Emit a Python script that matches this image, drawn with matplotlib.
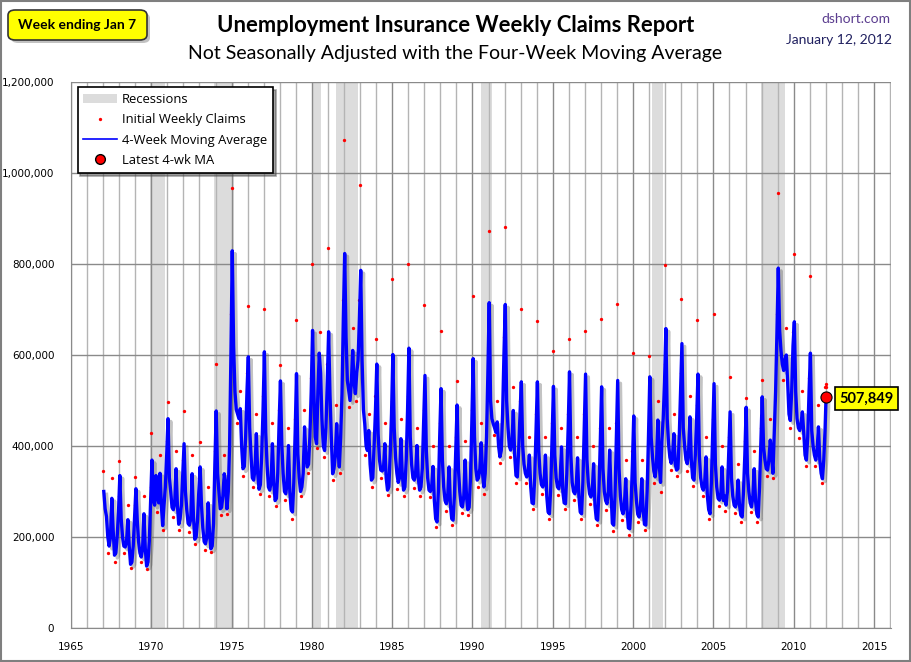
import numpy as np
import matplotlib.pyplot as plt
import matplotlib.patheffects as pe
from matplotlib.patches import FancyBboxPatch, Rectangle, Patch
from matplotlib.lines import Line2D
from matplotlib.ticker import FuncFormatter, MultipleLocator

# ---- data (thousands of claims) ----
years = list(range(1967, 2012))

# 4-week moving average, one row per year, Jan..Dec (mid-month)
ma_1967_1976 = [
    [300, 262, 245, 200, 180, 200, 285, 215, 160, 165, 200, 255],
    [335, 240, 200, 180, 178, 190, 238, 180, 140, 145, 180, 245],
    [306, 237, 190, 165, 156, 175, 251, 175, 136, 145, 190, 280],
    [369, 280, 270, 335, 290, 275, 340, 270, 225, 270, 310, 380],
    [460, 330, 300, 265, 260, 275, 350, 270, 228, 240, 270, 340],
    [405, 300, 260, 230, 226, 240, 339, 245, 195, 200, 235, 300],
    [354, 270, 220, 190, 185, 200, 275, 210, 174, 180, 230, 360],
    [477, 340, 300, 262, 265, 290, 339, 320, 262, 300, 400, 600],
    [829, 620, 520, 480, 470, 460, 482, 400, 350, 355, 420, 520],
    [596, 440, 380, 330, 325, 350, 427, 340, 305, 315, 380, 480],
]
ma_1977_1986 = [
    [607, 430, 360, 310, 303, 320, 405, 320, 280, 285, 340, 450],
    [543, 405, 340, 300, 295, 320, 401, 300, 260, 255, 320, 430],
    [559, 383, 330, 300, 310, 340, 442, 380, 354, 360, 420, 520],
    [654, 515, 420, 405, 520, 604, 560, 460, 400, 390, 440, 540],
    [651, 515, 420, 339, 350, 380, 449, 390, 354, 420, 515, 680],
    [823, 640, 544, 522, 500, 540, 610, 540, 515, 560, 588, 680],
    [786, 588, 480, 449, 400, 390, 434, 360, 325, 330, 400, 478],
    [580, 427, 370, 347, 345, 350, 405, 330, 303, 310, 380, 470],
    [601, 440, 376, 340, 320, 330, 416, 340, 303, 310, 370, 480],
    [615, 420, 360, 330, 325, 340, 401, 330, 303, 310, 350, 450],
]
ma_1987_1996 = [
    [555, 390, 330, 303, 300, 310, 355, 280, 240, 233, 300, 420],
    [526, 370, 310, 280, 273, 290, 354, 270, 240, 237, 290, 390],
    [490, 350, 300, 270, 266, 290, 369, 290, 260, 265, 330, 450],
    [592, 420, 350, 325, 330, 350, 407, 340, 310, 340, 420, 560],
    [715, 500, 460, 449, 440, 430, 453, 400, 376, 390, 470, 600],
    [711, 500, 442, 400, 391, 410, 478, 380, 335, 332, 390, 470],
    [541, 400, 360, 340, 332, 340, 380, 310, 275, 273, 330, 440],
    [541, 390, 340, 315, 310, 320, 380, 290, 255, 251, 310, 420],
    [531, 380, 330, 310, 306, 325, 398, 300, 275, 273, 340, 440],
    [563, 380, 320, 300, 295, 310, 374, 290, 255, 251, 320, 440],
]
ma_1997_2006 = [
    [558, 370, 320, 295, 288, 300, 361, 270, 240, 237, 300, 410],
    [530, 350, 300, 280, 273, 300, 391, 300, 230, 226, 290, 420],
    [544, 350, 290, 260, 251, 270, 328, 260, 220, 218, 270, 360],
    [466, 320, 280, 250, 244, 265, 328, 260, 228, 226, 300, 420],
    [552, 420, 376, 345, 332, 360, 457, 360, 320, 410, 460, 540],
    [658, 460, 405, 375, 362, 380, 427, 360, 347, 350, 420, 520],
    [625, 440, 400, 370, 361, 390, 464, 370, 330, 325, 380, 460],
    [558, 380, 330, 310, 303, 320, 376, 290, 260, 251, 320, 430],
    [537, 360, 310, 285, 281, 290, 354, 280, 290, 270, 300, 390],
    [475, 330, 290, 270, 266, 280, 325, 270, 248, 244, 300, 380],
]
ma_2007_2011 = [
    [485, 340, 300, 275, 266, 290, 350, 280, 250, 244, 310, 410],
    [508, 398, 370, 350, 347, 370, 413, 380, 340, 430, 520, 650],
    [791, 654, 610, 580, 566, 590, 600, 540, 470, 456, 520, 620],
    [673, 520, 460, 440, 434, 450, 475, 430, 380, 369, 420, 520],
    [604, 434, 400, 380, 369, 390, 442, 370, 340, 328, 370, 440],
]

# initial weekly claims that stand out from the average (thousands)
jan_claims = [345, 368, 332, 428, 497, 477, 409, 581, 968, 707,
              702, 577, 678, 801, 836, 1072, 974, 636, 768, 801,
              709, 652, 542, 729, 872, 882, 702, 674, 609, 636,
              652, 680, 711, 605, 597, 797, 722, 676, 691, 552,
              505, 546, 955, 823, 773]
jul_claims = [330, 270, 290, 380, 390, 380, 310, 380, 520, 470,
              450, 440, 480, 650, 490, 660, 470, 450, 460, 440,
              400, 400, 410, 450, 500, 530, 420, 420, 440, 420,
              400, 440, 370, 370, 500, 470, 510, 420, 400, 360,
              390, 460, 660, 520, 490]
spring_claims = [165, 165, 145, 255, 245, 212, 172, 248, 450, 310,
                 290, 282, 290, 395, 325, 485, 380, 330, 305, 308,
                 288, 258, 252, 310, 425, 375, 318, 295, 292, 282,
                 272, 260, 238, 232, 318, 348, 345, 290, 268, 252,
                 255, 335, 545, 418, 355]
fall_claims = [145, 132, 130, 215, 215, 185, 168, 250, 335, 295,
               268, 240, 340, 375, 340, 500, 310, 292, 290, 290,
               222, 226, 248, 295, 362, 318, 262, 240, 262, 240,
               226, 214, 205, 215, 300, 335, 312, 240, 258, 232,
               232, 330, 440, 355, 318]
dec_claims = [290, 270, 310, 410, 370, 330, 390, 690, 560, 510,
              480, 460, 550, 580, 720, 720, 510, 500, 510, 480,
              450, 420, 480, 600, 640, 500, 470, 450, 470, 470,
              440, 450, 390, 450, 580, 560, 490, 460, 420, 410,
              440, 690, 650, 550, 530]

latest_date = 2012.015
latest_ma = 507849
latest_claims = [537, 530]

recessions = [(1969.92, 1970.88), (1973.88, 1975.18), (1980.0, 1980.54),
              (1981.5, 1982.88), (1990.54, 1991.2), (2001.17, 2001.88),
              (2007.96, 2009.46)]

# ---- build series ----
ma_rows = ma_1967_1976 + ma_1977_1986 + ma_1987_1996 + ma_1997_2006 + ma_2007_2011
dates = []
ma = []
for y, row in zip(years, ma_rows):
    for m, v in enumerate(row):
        dates.append(y + (m + 0.5) / 12)
        ma.append(v * 1000)
dates.append(latest_date)
ma.append(latest_ma)

dot_x, dot_y = [], []
for y, a, b, c, d, e in zip(years, jan_claims, spring_claims, jul_claims, fall_claims, dec_claims):
    for off, v in [(0.01, a), (0.33, b), (0.53, c), (0.74, d), (0.96, e)]:
        dot_x.append(y + off)
        dot_y.append(v * 1000)
for v in latest_claims:
    dot_x.append(latest_date - 0.01)
    dot_y.append(v * 1000)

# ---- figure ----
fig = plt.figure(figsize=(9.11, 6.62), dpi=100)
ax = fig.add_axes([71 / 911, 1 - 628 / 662, 820 / 911, 546 / 662])

for a, b in recessions:
    ax.axvspan(a, b, color='#dcdcdc', lw=0, zorder=0)

ax.set_xlim(1965, 2016.06)
ax.set_ylim(0, 1200000)
ax.xaxis.set_major_locator(MultipleLocator(5))
ax.xaxis.set_minor_locator(MultipleLocator(1))
ax.yaxis.set_major_locator(MultipleLocator(200000))
ax.yaxis.set_major_formatter(FuncFormatter(lambda v, p: f'{int(v):,}'))
ax.grid(which='major', color='#8a8a8a', lw=1, zorder=1)
ax.grid(which='minor', axis='x', color='#b4b4b4', lw=1, zorder=1)
ax.set_axisbelow(True)
ax.tick_params(which='both', length=0, labelsize=7.5, colors='black')
ax.tick_params(axis='x', pad=10)
ax.tick_params(axis='y', pad=12)
for s in ['top', 'right']:
    ax.spines[s].set_visible(False)
for s in ['left', 'bottom']:
    ax.spines[s].set_color('#8a8a8a')

ax.plot(dot_x, dot_y, 'o', color='#ff0000', ms=2.4, mew=0, zorder=2)
ax.plot(dates, ma, color='#0000ff', lw=2.4, zorder=3,
        path_effects=[pe.SimpleLineShadow(offset=(2, -2), shadow_color='#555555', alpha=0.35),
                      pe.Normal()])
ax.plot([latest_date], [latest_ma], 'o', color='#ff0000', mec='black', mew=0.8, ms=8, zorder=5)

handles = [Patch(facecolor='#dcdcdc', edgecolor='none'),
           Line2D([], [], ls='none', marker='o', color='#ff0000', ms=2.4, mew=0),
           Line2D([], [], color='#0000ff', lw=1.2),
           Line2D([], [], ls='none', marker='o', color='#ff0000', mec='black', ms=7)]
labels = ['Recessions', 'Initial Weekly Claims', '4-Week Moving Average', 'Latest 4-wk MA']
leg = ax.legend(handles, labels, loc='upper left', bbox_to_anchor=(0.0, 1.002),
                frameon=True, fancybox=False, shadow=True, edgecolor='black',
                framealpha=1, handlelength=2.6, borderpad=0.45,
                labelspacing=0.55, handletextpad=0.35, prop={'family': 'Open Sans', 'size': 9.4})
leg.get_frame().set_linewidth(1.2)
leg.set_zorder(10)

# annotation box for the latest value
ax.annotate(f'{latest_ma:,}', xy=(latest_date, latest_ma), xytext=(29, -1),
            textcoords='offset points', ha='center', va='center',
            fontsize=10.5, fontweight='bold', family='Lato',
            bbox=dict(boxstyle='square,pad=0.3', fc='#ffff00', ec='black', lw=1.2))

# titles
fig.text(0.5, 1 - 26 / 662, 'Unemployment Insurance Weekly Claims Report',
         ha='center', va='center', fontsize=15.8, fontweight='bold', family='Lato')
fig.text(0.5, 1 - 54 / 662, 'Not Seasonally Adjusted with the Four-Week Moving Average',
         ha='center', va='center', fontsize=14, family='Lato')
fig.text(890 / 911, 1 - 19 / 662, 'dshort.com', ha='right', va='center',
         fontsize=10, family='Lato', color='#5b3d8f')
fig.text(892 / 911, 1 - 40 / 662, 'January 12, 2012', ha='right', va='center',
         fontsize=10, family='Lato', color='#1f1f5f')

# "Week ending" badge
shadow = FancyBboxPatch((11 / 911, 1 - 43 / 662), 139 / 911, 30 / 662,
                        boxstyle='round,pad=0,rounding_size=0.008', transform=fig.transFigure,
                        fc='#9a9a9a', ec='none', alpha=0.6)
badge = FancyBboxPatch((8 / 911, 1 - 40 / 662), 139 / 911, 30 / 662,
                       boxstyle='round,pad=0,rounding_size=0.008', transform=fig.transFigure,
                       fc='#ffff00', ec='#333333', lw=1.2)
fig.patches.extend([shadow, badge])
fig.text(77.5 / 911, 1 - 25 / 662, 'Week ending Jan 7', ha='center', va='center',
         fontsize=10, fontweight='bold', family='Lato')

# outer frame
fig.patches.append(Rectangle((0.001, 0.001), 0.998, 0.997, transform=fig.transFigure,
                             fill=False, ec='#7f7f7f', lw=1.5))

fig.savefig('out.png', dpi=100)
